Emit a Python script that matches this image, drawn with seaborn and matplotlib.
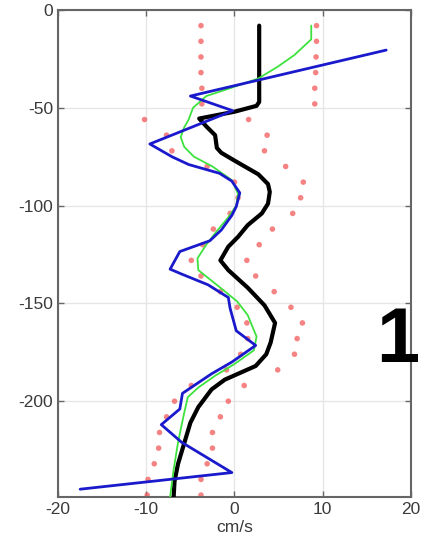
import numpy as np
import pandas as pd
import matplotlib
matplotlib.use('Agg')
import matplotlib.pyplot as plt
import seaborn as sns

# profondita' dei limiti (punti rossi), ogni 8 m
dot_depth = [-8, -16, -24, -32, -40, -48, -56, -64, -72, -80, -88, -96, -104, -112, -120, -128,
             -136, -144, -152, -160, -168, -176, -184, -192, -200, -208, -216, -224, -232, -240, -248]
dot_left = [-3.8, -3.8, -3.8, -3.8, -3.7, -3.7, -10.2, -7.7, -7.1, -3.1, 0.0, 0.4, -0.5, -2.4, -3.6, -4.9,
            -3.8, -1.6, 0.3, 1.4, 1.5, 0.7, -0.9, -4.9, -6.8, -7.7, -8.5, -8.6, -9.1, -9.8, -9.9]
dot_right = [9.3, 9.3, 9.25, 9.2, 9.1, 9.1, 1.6, 3.7, 3.4, 5.8, 7.8, 7.5, 6.6, 4.3, 2.8, 1.4,
             2.4, 4.5, 6.4, 7.7, 7.1, 6.8, 4.9, 1.1, -0.7, -1.6, -2.5, -2.5, -3.1, -3.8, -3.8]

# profilo nero (spesso)
black_depth = [-8, -47, -49, -52, -55.5, -59.5, -64, -70.5, -73, -77, -84, -89, -93, -99, -104, -110,
               -116, -121, -128, -133, -142, -151, -160, -170, -176, -182, -186, -189, -194, -203,
               -211, -220, -232, -241, -249]
black_val = [2.8, 2.8, 2.5, 0.0, -4.0, -3.2, -2.2, -2.0, -1.5, 0.0, 2.7, 3.8, 4.0, 3.8, 3.1, 1.5,
             0.4, -0.7, -1.6, -0.7, 1.5, 3.4, 4.6, 4.1, 3.6, 2.4, 0.4, -1.1, -2.6, -4.1,
             -5.0, -5.6, -6.4, -6.8, -6.9]

# profilo verde
green_depth = [-8, -15, -23, -29, -35, -40, -44, -50, -56, -60, -65, -70, -75, -80, -87, -94, -100,
               -106, -113, -120, -127, -133, -142, -149, -156, -167, -174, -181, -187, -193, -198,
               -208, -221, -235, -249]
green_val = [8.7, 8.7, 6.8, 4.9, 2.7, -0.5, -3.2, -4.7, -5.2, -5.7, -6.1, -5.7, -4.6, -2.5, -0.3, 0.4, 0.2,
             -0.7, -2.0, -3.2, -4.2, -4.1, -1.6, 0.3, 1.5, 2.5, 2.2, 0.0, -2.2, -4.1, -5.3,
             -5.8, -6.4, -6.9, -7.3]

# profilo blu
blue_depth = [-20.5, -44, -51.5, -68.5, -75, -79, -83.5, -87.5, -93.5, -100.5, -105, -112.5, -118,
              -123.5, -132.5, -135, -140.5, -147, -152.5, -164, -171.5, -180, -186, -196, -204,
              -212, -221, -236.5, -245]
blue_val = [17.2, -5.0, -0.2, -9.6, -7.1, -5.2, -1.7, -0.3, 0.6, 0.2, -0.3, -1.5, -2.8,
            -6.2, -7.3, -6.0, -3.0, -0.7, -0.5, 0.2, 2.4, -0.3, -2.6, -5.9, -6.2,
            -8.3, -6.0, -0.3, -17.5]

x_ticks = [-20, -10, 0, 10, 20]
y_ticks = [-200, -150, -100, -50, 0]

sns.set_theme(style='whitegrid')
plt.rcParams['font.family'] = ['Liberation Sans', 'DejaVu Sans']
plt.rcParams['axes.unicode_minus'] = False

fig = plt.figure(figsize=(4.21, 5.52), dpi=100)
ax = fig.add_axes([0.138, 0.0996, 0.838, 0.8823])
ax.set_facecolor('white')

dots = pd.DataFrame({'v': dot_left + dot_right, 'z': dot_depth + dot_depth})
sns.scatterplot(data=dots, x='v', y='z', ax=ax, color='#f25a5a', s=16, alpha=0.75,
                edgecolor='none', zorder=2)

lines = [(black_val, black_depth, 'black', 3.0),
         (green_val, green_depth, '#3ee23e', 1.3),
         (blue_val, blue_depth, '#1a1acc', 2.0)]
for vals, depth, col, lw in lines:
    df = pd.DataFrame({'v': vals, 'z': depth})
    sns.lineplot(data=df, x='v', y='z', ax=ax, sort=False, estimator=None,
                 color=col, linewidth=lw, zorder=3)

ax.set_xlim(-20, 20)
ax.set_ylim(-249, 0)
ax.set_xticks(x_ticks)
ax.set_yticks(y_ticks)
ax.grid(True, color='#e6e6e6', linewidth=1.0)
ax.set_axisbelow(True)
for sp in ax.spines.values():
    sp.set_color('#666666')
    sp.set_linewidth(1.5)
ax.tick_params(direction='in', length=4, width=1, color='#666666', labelsize=12.5,
               labelcolor='#3a3a3a', top=True, right=True, left=True, bottom=True)
ax.set_xlabel('cm/s', fontsize=12.5, color='#3a3a3a', labelpad=2)
ax.set_ylabel('')

fig.text(398 / 421, 1 - 341 / 552, '1', fontsize=56, fontweight='bold', color='black',
         ha='center', va='center', zorder=10)

fig.savefig('out.png', dpi=100)
